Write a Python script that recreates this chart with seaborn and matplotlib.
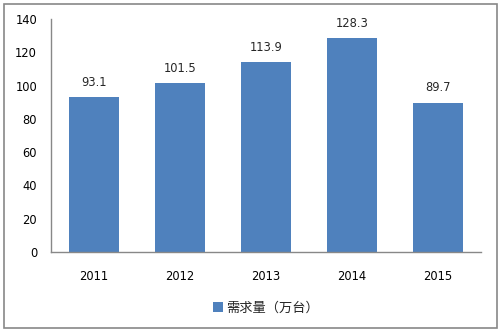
import matplotlib
matplotlib.use("Agg")
import matplotlib.pyplot as plt
import seaborn as sns
import pandas as pd
from matplotlib.patches import Rectangle, Patch

years = ["2011", "2012", "2013", "2014", "2015"]
demand = [93.1, 101.5, 113.9, 128.3, 89.7]
series_name = "需求量（万台）"
yticks = [0, 20, 40, 60, 80, 100, 120, 140]

sns.set_theme(style="white")
plt.rcParams['font.family'] = ['DejaVu Sans', 'Noto Sans CJK SC']

df = pd.DataFrame({"year": years, "value": demand})

fig = plt.figure(figsize=(5, 3.32), dpi=100)
ax = fig.add_axes([0.102, 0.241, 0.86, 0.702])
color = "#4F81BD"
sns.barplot(data=df, x="year", y="value", color=color, width=0.58, ax=ax,
            saturation=1, linewidth=0, edgecolor="none")

ax.set_ylim(0, 140)
ax.set_yticks(yticks)
ax.set_xlim(-0.5, len(years) - 0.5)
ax.set_xlabel("")
ax.set_ylabel("")
ax.tick_params(axis="both", labelsize=8.3, colors="black", length=0)
ax.tick_params(axis="y", pad=10)
ax.tick_params(axis="x", pad=13)
for s in ["top", "right"]:
    ax.spines[s].set_visible(False)
for s in ["left", "bottom"]:
    ax.spines[s].set_color("#888888")
    ax.spines[s].set_linewidth(1)

for c in ax.containers:
    ax.bar_label(c, labels=[f"{v:.1f}" for v in demand], padding=6, fontsize=8.3)

handle = Patch(facecolor=color, edgecolor="none", label=series_name)
leg = ax.legend(handles=[handle], loc="center", bbox_to_anchor=(0.5, -0.24),
                frameon=False, handlelength=0.75, handleheight=0.75,
                handletextpad=0.3,
                prop={"family": ["Noto Sans CJK SC", "DejaVu Sans"], "size": 9.5})

fig.patches.append(Rectangle((4 / 500, 4 / 332), 493 / 500, 324 / 332,
                             transform=fig.transFigure, fill=False,
                             edgecolor="#888888", linewidth=1.2))

fig.savefig("out.png", dpi=100)
